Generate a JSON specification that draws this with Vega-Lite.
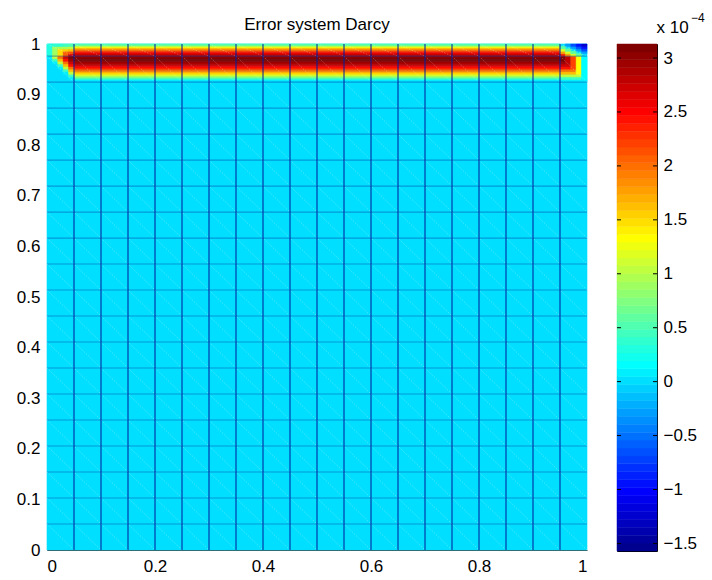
{
  "$schema": "https://vega.github.io/schema/vega-lite/v6.json",
  "background": "white",
  "padding": {"left": 16, "top": 12, "right": 5, "bottom": 5},
  "bounds": "flush",
  "spacing": 30,
  "config": {
    "font": "Liberation Sans",
    "view": {"stroke": null},
    "axis": {"labelFont": "Liberation Sans", "labelFontSize": 17, "labelColor": "black", "grid": false, "zindex": 1},
    "title": {"font": "Liberation Sans", "fontSize": 17, "fontWeight": "normal", "color": "black"}
  },
  "datasets": {
    "cells": [
      {"x":0,"x2":1,"y":0,"y2":1,"v":0},
      {"x":0.05,"x2":0.95,"y":0.9275,"y2":0.93,"v":0.1},
      {"x":0.05,"x2":0.95,"y":0.93,"y2":0.9325,"v":0.4},
      {"x":0.05,"x2":0.95,"y":0.9325,"y2":0.935,"v":0.65},
      {"x":0.05,"x2":0.95,"y":0.935,"y2":0.9375,"v":0.9},
      {"x":0.05,"x2":0.95,"y":0.9375,"y2":0.94,"v":1.2},
      {"x":0.05,"x2":0.95,"y":0.94,"y2":0.9425,"v":1.45},
      {"x":0.05,"x2":0.95,"y":0.9425,"y2":0.945,"v":1.65},
      {"x":0.05,"x2":0.95,"y":0.945,"y2":0.9475,"v":1.9},
      {"x":0.05,"x2":0.95,"y":0.9475,"y2":0.95,"v":2.1},
      {"x":0.05,"x2":0.95,"y":0.95,"y2":0.9525,"v":2.3},
      {"x":0.05,"x2":0.95,"y":0.9525,"y2":0.955,"v":2.45},
      {"x":0.05,"x2":0.95,"y":0.955,"y2":0.9575,"v":2.6},
      {"x":0.05,"x2":0.95,"y":0.9575,"y2":0.96,"v":2.75},
      {"x":0.05,"x2":0.95,"y":0.96,"y2":0.9625,"v":2.85},
      {"x":0.05,"x2":0.95,"y":0.9625,"y2":0.965,"v":2.95},
      {"x":0.05,"x2":0.95,"y":0.965,"y2":0.9675,"v":3.03},
      {"x":0.05,"x2":0.95,"y":0.9675,"y2":0.97,"v":3.1},
      {"x":0.05,"x2":0.95,"y":0.97,"y2":0.9725,"v":3.1},
      {"x":0.05,"x2":0.95,"y":0.9725,"y2":0.975,"v":3.03},
      {"x":0.05,"x2":0.95,"y":0.975,"y2":0.9775,"v":2.93},
      {"x":0.05,"x2":0.95,"y":0.9775,"y2":0.98,"v":2.8},
      {"x":0.05,"x2":0.95,"y":0.98,"y2":0.9825,"v":2.65},
      {"x":0.05,"x2":0.95,"y":0.9825,"y2":0.985,"v":2.45},
      {"x":0.05,"x2":0.95,"y":0.985,"y2":0.9875,"v":2.2},
      {"x":0.05,"x2":0.95,"y":0.9875,"y2":0.99,"v":1.95},
      {"x":0.05,"x2":0.95,"y":0.99,"y2":0.9925,"v":1.7},
      {"x":0.05,"x2":0.95,"y":0.9925,"y2":0.995,"v":1.35},
      {"x":0.05,"x2":0.95,"y":0.995,"y2":0.9975,"v":0.95},
      {"x":0.05,"x2":0.95,"y":0.9975,"y2":1,"v":0.5},

      {"x":0,"x2":0.01,"y":0.971,"y2":0.9761,"v":0.05},
      {"x":0.01,"x2":0.02,"y":0.9607,"y2":0.9658,"v":0.05},
      {"x":0.01,"x2":0.02,"y":0.9658,"y2":0.971,"v":0.45},
      {"x":0.01,"x2":0.02,"y":0.971,"y2":0.9761,"v":1.05},
      {"x":0.02,"x2":0.03,"y":0.9504,"y2":0.9555,"v":0.05},
      {"x":0.02,"x2":0.03,"y":0.9555,"y2":0.9607,"v":0.45},
      {"x":0.02,"x2":0.03,"y":0.9607,"y2":0.9658,"v":1.05},
      {"x":0.02,"x2":0.03,"y":0.9658,"y2":0.971,"v":1.6},
      {"x":0.02,"x2":0.03,"y":0.971,"y2":0.9761,"v":2.0},
      {"x":0.03,"x2":0.04,"y":0.9401,"y2":0.9453,"v":0.05},
      {"x":0.03,"x2":0.04,"y":0.9453,"y2":0.9504,"v":0.45},
      {"x":0.03,"x2":0.04,"y":0.9504,"y2":0.9555,"v":1.05},
      {"x":0.03,"x2":0.04,"y":0.9555,"y2":0.9607,"v":1.6},
      {"x":0.03,"x2":0.04,"y":0.9607,"y2":0.9658,"v":2.0},
      {"x":0.03,"x2":0.04,"y":0.9658,"y2":0.971,"v":2.4},
      {"x":0.03,"x2":0.04,"y":0.971,"y2":0.9761,"v":2.7},
      {"x":0.04,"x2":0.05,"y":0.9298,"y2":0.935,"v":0.05},
      {"x":0.04,"x2":0.05,"y":0.935,"y2":0.9401,"v":0.45},
      {"x":0.04,"x2":0.05,"y":0.9401,"y2":0.9453,"v":1.05},
      {"x":0.04,"x2":0.05,"y":0.9453,"y2":0.9504,"v":1.6},
      {"x":0.04,"x2":0.05,"y":0.9504,"y2":0.9555,"v":2.0},
      {"x":0.04,"x2":0.05,"y":0.9555,"y2":0.9607,"v":2.4},
      {"x":0.04,"x2":0.05,"y":0.9607,"y2":0.9658,"v":2.7},
      {"x":0.04,"x2":0.05,"y":0.9658,"y2":0.971,"v":2.93},
      {"x":0.04,"x2":0.05,"y":0.971,"y2":0.9761,"v":3.07},

      {"x":0,"x2":0.01,"y":0.9761,"y2":1,"v":0.29},
      {"x":0.01,"x2":0.02,"y":0.9761,"y2":0.9952,"v":0.88},
      {"x":0.01,"x2":0.02,"y":0.9952,"y2":1,"v":0.35},
      {"x":0.02,"x2":0.03,"y":0.9761,"y2":0.9904,"v":1.47},
      {"x":0.02,"x2":0.03,"y":0.9904,"y2":0.9952,"v":0.94},
      {"x":0.02,"x2":0.03,"y":0.9952,"y2":1,"v":0.41},
      {"x":0.03,"x2":0.04,"y":0.9761,"y2":0.9857,"v":2.05},
      {"x":0.03,"x2":0.04,"y":0.9857,"y2":0.9904,"v":1.53},
      {"x":0.03,"x2":0.04,"y":0.9904,"y2":0.9952,"v":1.0},
      {"x":0.03,"x2":0.04,"y":0.9952,"y2":1,"v":0.47},
      {"x":0.04,"x2":0.05,"y":0.9761,"y2":0.9809,"v":2.64},
      {"x":0.04,"x2":0.05,"y":0.9809,"y2":0.9857,"v":2.11},
      {"x":0.04,"x2":0.05,"y":0.9857,"y2":0.9904,"v":1.59},
      {"x":0.04,"x2":0.05,"y":0.9904,"y2":0.9952,"v":1.06},
      {"x":0.04,"x2":0.05,"y":0.9952,"y2":1,"v":0.53},

      {"x":0.95,"x2":0.96,"y":0.9247,"y2":0.9298,"v":0.05},
      {"x":0.95,"x2":0.96,"y":0.9298,"y2":0.935,"v":0.45},
      {"x":0.95,"x2":0.96,"y":0.935,"y2":0.9401,"v":1.05},
      {"x":0.95,"x2":0.96,"y":0.9401,"y2":0.9453,"v":1.6},
      {"x":0.95,"x2":0.96,"y":0.9453,"y2":0.9504,"v":2.0},
      {"x":0.95,"x2":0.96,"y":0.9504,"y2":0.9555,"v":2.4},
      {"x":0.95,"x2":0.96,"y":0.9555,"y2":0.9607,"v":2.7},
      {"x":0.95,"x2":0.96,"y":0.9607,"y2":0.9658,"v":2.93},
      {"x":0.95,"x2":0.96,"y":0.9658,"y2":0.971,"v":3.07},
      {"x":0.95,"x2":0.96,"y":0.971,"y2":0.9761,"v":3.1},
      {"x":0.96,"x2":0.97,"y":0.9247,"y2":0.9298,"v":0.05},
      {"x":0.96,"x2":0.97,"y":0.9298,"y2":0.935,"v":0.45},
      {"x":0.96,"x2":0.97,"y":0.935,"y2":0.9401,"v":1.05},
      {"x":0.96,"x2":0.97,"y":0.9401,"y2":0.9453,"v":1.6},
      {"x":0.96,"x2":0.97,"y":0.9453,"y2":0.9504,"v":2.0},
      {"x":0.96,"x2":0.97,"y":0.9504,"y2":0.9555,"v":2.4},
      {"x":0.96,"x2":0.97,"y":0.9555,"y2":0.9607,"v":2.7},
      {"x":0.96,"x2":0.97,"y":0.9607,"y2":0.9761,"v":2.83},
      {"x":0.97,"x2":0.98,"y":0.9247,"y2":0.9298,"v":0.05},
      {"x":0.97,"x2":0.98,"y":0.9298,"y2":0.935,"v":0.45},
      {"x":0.97,"x2":0.98,"y":0.935,"y2":0.9401,"v":1.05},
      {"x":0.97,"x2":0.98,"y":0.9401,"y2":0.9453,"v":1.6},
      {"x":0.97,"x2":0.98,"y":0.9453,"y2":0.9504,"v":2.0},
      {"x":0.97,"x2":0.98,"y":0.9504,"y2":0.9761,"v":2.2},
      {"x":0.98,"x2":0.99,"y":0.9247,"y2":0.9298,"v":0.05},
      {"x":0.98,"x2":0.99,"y":0.9298,"y2":0.935,"v":0.45},
      {"x":0.98,"x2":0.99,"y":0.935,"y2":0.9401,"v":1.05},
      {"x":0.98,"x2":0.99,"y":0.9401,"y2":0.9761,"v":1.35},
      {"x":0.99,"x2":1,"y":0.9247,"y2":0.9298,"v":0.05},
      {"x":0.99,"x2":1,"y":0.9298,"y2":0.9761,"v":0.15},

      {"x":0.95,"x2":0.96,"y":0.9761,"y2":0.9809,"v":2.34},
      {"x":0.95,"x2":0.96,"y":0.9809,"y2":0.9857,"v":1.76},
      {"x":0.95,"x2":0.96,"y":0.9857,"y2":0.9904,"v":1.17},
      {"x":0.95,"x2":0.96,"y":0.9904,"y2":0.9952,"v":0.59},
      {"x":0.96,"x2":0.97,"y":0.9761,"y2":0.9809,"v":1.76},
      {"x":0.96,"x2":0.97,"y":0.9809,"y2":0.9857,"v":1.17},
      {"x":0.96,"x2":0.97,"y":0.9857,"y2":0.9904,"v":0.59},
      {"x":0.96,"x2":0.97,"y":0.9952,"y2":1,"v":-0.31},
      {"x":0.97,"x2":0.98,"y":0.9761,"y2":0.9809,"v":1.17},
      {"x":0.97,"x2":0.98,"y":0.9809,"y2":0.9857,"v":0.59},
      {"x":0.97,"x2":0.98,"y":0.9904,"y2":0.9952,"v":-0.31},
      {"x":0.97,"x2":0.98,"y":0.9952,"y2":1,"v":-0.63},
      {"x":0.98,"x2":0.99,"y":0.9761,"y2":0.9809,"v":0.59},
      {"x":0.98,"x2":0.99,"y":0.9857,"y2":0.9904,"v":-0.31},
      {"x":0.98,"x2":0.99,"y":0.9904,"y2":0.9952,"v":-0.63},
      {"x":0.98,"x2":0.99,"y":0.9952,"y2":1,"v":-0.94},
      {"x":0.99,"x2":1,"y":0.9809,"y2":0.9857,"v":-0.31},
      {"x":0.99,"x2":1,"y":0.9857,"y2":0.9904,"v":-0.63},
      {"x":0.99,"x2":1,"y":0.9904,"y2":0.9952,"v":-0.94},
      {"x":0.99,"x2":1,"y":0.9952,"y2":1,"v":-1.26}
    ],
    "diag": [
      {"x":0,"y":0.05137,"x2":0.05,"y2":0},
      {"x":0,"y":0.10274,"x2":0.1,"y2":0},
      {"x":0,"y":0.15411,"x2":0.15,"y2":0},
      {"x":0,"y":0.20548,"x2":0.2,"y2":0},
      {"x":0,"y":0.25685,"x2":0.25,"y2":0},
      {"x":0,"y":0.30822,"x2":0.3,"y2":0},
      {"x":0,"y":0.35959,"x2":0.35,"y2":0},
      {"x":0,"y":0.41096,"x2":0.4,"y2":0},
      {"x":0,"y":0.46233,"x2":0.45,"y2":0},
      {"x":0,"y":0.5137,"x2":0.5,"y2":0},
      {"x":0,"y":0.56507,"x2":0.55,"y2":0},
      {"x":0,"y":0.61644,"x2":0.6,"y2":0},
      {"x":0,"y":0.66781,"x2":0.65,"y2":0},
      {"x":0,"y":0.71918,"x2":0.7,"y2":0},
      {"x":0,"y":0.77055,"x2":0.75,"y2":0},
      {"x":0,"y":0.82192,"x2":0.8,"y2":0},
      {"x":0,"y":0.87329,"x2":0.85,"y2":0},
      {"x":0,"y":0.92466,"x2":0.9,"y2":0},
      {"x":0,"y":0.97603,"x2":0.95,"y2":0},
      {"x":0.05,"y":0.97603,"x2":1,"y2":0},
      {"x":0.1,"y":0.97603,"x2":1,"y2":0.05137},
      {"x":0.15,"y":0.97603,"x2":1,"y2":0.10274},
      {"x":0.2,"y":0.97603,"x2":1,"y2":0.15411},
      {"x":0.25,"y":0.97603,"x2":1,"y2":0.20548},
      {"x":0.3,"y":0.97603,"x2":1,"y2":0.25685},
      {"x":0.35,"y":0.97603,"x2":1,"y2":0.30822},
      {"x":0.4,"y":0.97603,"x2":1,"y2":0.35959},
      {"x":0.45,"y":0.97603,"x2":1,"y2":0.41096},
      {"x":0.5,"y":0.97603,"x2":1,"y2":0.46233},
      {"x":0.55,"y":0.97603,"x2":1,"y2":0.5137},
      {"x":0.6,"y":0.97603,"x2":1,"y2":0.56507},
      {"x":0.65,"y":0.97603,"x2":1,"y2":0.61644},
      {"x":0.7,"y":0.97603,"x2":1,"y2":0.66781},
      {"x":0.75,"y":0.97603,"x2":1,"y2":0.71918},
      {"x":0.8,"y":0.97603,"x2":1,"y2":0.77055},
      {"x":0.85,"y":0.97603,"x2":1,"y2":0.82192},
      {"x":0.9,"y":0.97603,"x2":1,"y2":0.87329},
      {"x":0.95,"y":0.97603,"x2":1,"y2":0.92466},
      {"x":0,"y":1,"x2":0.05,"y2":0.97603},
      {"x":0.05,"y":1,"x2":0.1,"y2":0.97603},
      {"x":0.1,"y":1,"x2":0.15,"y2":0.97603},
      {"x":0.15,"y":1,"x2":0.2,"y2":0.97603},
      {"x":0.2,"y":1,"x2":0.25,"y2":0.97603},
      {"x":0.25,"y":1,"x2":0.3,"y2":0.97603},
      {"x":0.3,"y":1,"x2":0.35,"y2":0.97603},
      {"x":0.35,"y":1,"x2":0.4,"y2":0.97603},
      {"x":0.4,"y":1,"x2":0.45,"y2":0.97603},
      {"x":0.45,"y":1,"x2":0.5,"y2":0.97603},
      {"x":0.5,"y":1,"x2":0.55,"y2":0.97603},
      {"x":0.55,"y":1,"x2":0.6,"y2":0.97603},
      {"x":0.6,"y":1,"x2":0.65,"y2":0.97603},
      {"x":0.65,"y":1,"x2":0.7,"y2":0.97603},
      {"x":0.7,"y":1,"x2":0.75,"y2":0.97603},
      {"x":0.75,"y":1,"x2":0.8,"y2":0.97603},
      {"x":0.8,"y":1,"x2":0.85,"y2":0.97603},
      {"x":0.85,"y":1,"x2":0.9,"y2":0.97603},
      {"x":0.9,"y":1,"x2":0.95,"y2":0.97603},
      {"x":0.95,"y":1,"x2":1,"y2":0.97603}
    ],
    "vlines": [
      {"x":0.05},{"x":0.1},{"x":0.15},{"x":0.2},{"x":0.25},{"x":0.3},{"x":0.35},{"x":0.4},{"x":0.45},{"x":0.5},
      {"x":0.55},{"x":0.6},{"x":0.65},{"x":0.7},{"x":0.75},{"x":0.8},{"x":0.85},{"x":0.9},{"x":0.95}
    ],
    "hlines": [
      {"y":0.05137},{"y":0.10274},{"y":0.15411},{"y":0.20548},{"y":0.25685},{"y":0.30822},{"y":0.35959},{"y":0.41096},{"y":0.46233},{"y":0.5137},
      {"y":0.56507},{"y":0.61644},{"y":0.66781},{"y":0.71918},{"y":0.77055},{"y":0.82192},{"y":0.87329},{"y":0.92466},{"y":0.97603}
    ],
    "cticks": [
      {"t":-1.5},{"t":-1},{"t":-0.5},{"t":0},{"t":0.5},{"t":1},{"t":1.5},{"t":2},{"t":2.5},{"t":3}
    ],
    "cbar": [
      {"lo":-1.57,"hi":-1.4966,"v":-1.5333},
      {"lo":-1.4966,"hi":-1.4231,"v":-1.4598},
      {"lo":-1.4231,"hi":-1.3497,"v":-1.3864},
      {"lo":-1.3497,"hi":-1.2763,"v":-1.313},
      {"lo":-1.2763,"hi":-1.2028,"v":-1.2395},
      {"lo":-1.2028,"hi":-1.1294,"v":-1.1661},
      {"lo":-1.1294,"hi":-1.0559,"v":-1.0927},
      {"lo":-1.0559,"hi":-0.9825,"v":-1.0192},
      {"lo":-0.9825,"hi":-0.9091,"v":-0.9458},
      {"lo":-0.9091,"hi":-0.8356,"v":-0.8723},
      {"lo":-0.8356,"hi":-0.7622,"v":-0.7989},
      {"lo":-0.7622,"hi":-0.6888,"v":-0.7255},
      {"lo":-0.6888,"hi":-0.6153,"v":-0.652},
      {"lo":-0.6153,"hi":-0.5419,"v":-0.5786},
      {"lo":-0.5419,"hi":-0.4684,"v":-0.5052},
      {"lo":-0.4684,"hi":-0.395,"v":-0.4317},
      {"lo":-0.395,"hi":-0.3216,"v":-0.3583},
      {"lo":-0.3216,"hi":-0.2481,"v":-0.2848},
      {"lo":-0.2481,"hi":-0.1747,"v":-0.2114},
      {"lo":-0.1747,"hi":-0.1013,"v":-0.138},
      {"lo":-0.1013,"hi":-0.0278,"v":-0.0645},
      {"lo":-0.0278,"hi":0.0456,"v":0.0089},
      {"lo":0.0456,"hi":0.1191,"v":0.0823},
      {"lo":0.1191,"hi":0.1925,"v":0.1558},
      {"lo":0.1925,"hi":0.2659,"v":0.2292},
      {"lo":0.2659,"hi":0.3394,"v":0.3027},
      {"lo":0.3394,"hi":0.4128,"v":0.3761},
      {"lo":0.4128,"hi":0.4863,"v":0.4495},
      {"lo":0.4863,"hi":0.5597,"v":0.523},
      {"lo":0.5597,"hi":0.6331,"v":0.5964},
      {"lo":0.6331,"hi":0.7066,"v":0.6698},
      {"lo":0.7066,"hi":0.78,"v":0.7433},
      {"lo":0.78,"hi":0.8534,"v":0.8167},
      {"lo":0.8534,"hi":0.9269,"v":0.8902},
      {"lo":0.9269,"hi":1.0003,"v":0.9636},
      {"lo":1.0003,"hi":1.0738,"v":1.037},
      {"lo":1.0738,"hi":1.1472,"v":1.1105},
      {"lo":1.1472,"hi":1.2206,"v":1.1839},
      {"lo":1.2206,"hi":1.2941,"v":1.2573},
      {"lo":1.2941,"hi":1.3675,"v":1.3308},
      {"lo":1.3675,"hi":1.4409,"v":1.4042},
      {"lo":1.4409,"hi":1.5144,"v":1.4777},
      {"lo":1.5144,"hi":1.5878,"v":1.5511},
      {"lo":1.5878,"hi":1.6613,"v":1.6245},
      {"lo":1.6613,"hi":1.7347,"v":1.698},
      {"lo":1.7347,"hi":1.8081,"v":1.7714},
      {"lo":1.8081,"hi":1.8816,"v":1.8448},
      {"lo":1.8816,"hi":1.955,"v":1.9183},
      {"lo":1.955,"hi":2.0284,"v":1.9917},
      {"lo":2.0284,"hi":2.1019,"v":2.0652},
      {"lo":2.1019,"hi":2.1753,"v":2.1386},
      {"lo":2.1753,"hi":2.2488,"v":2.212},
      {"lo":2.2488,"hi":2.3222,"v":2.2855},
      {"lo":2.3222,"hi":2.3956,"v":2.3589},
      {"lo":2.3956,"hi":2.4691,"v":2.4323},
      {"lo":2.4691,"hi":2.5425,"v":2.5058},
      {"lo":2.5425,"hi":2.6159,"v":2.5792},
      {"lo":2.6159,"hi":2.6894,"v":2.6527},
      {"lo":2.6894,"hi":2.7628,"v":2.7261},
      {"lo":2.7628,"hi":2.8363,"v":2.7995},
      {"lo":2.8363,"hi":2.9097,"v":2.873},
      {"lo":2.9097,"hi":2.9831,"v":2.9464},
      {"lo":2.9831,"hi":3.0566,"v":3.0198},
      {"lo":3.0566,"hi":3.13,"v":3.0933}
    ]
  },
  "hconcat": [
    {
      "width": 540,
      "height": 506,
      "title": {"text": "Error system Darcy", "offset": 1},
      "layer": [
        {
          "data": {"name": "cells"},
          "mark": {"type": "rect", "strokeWidth": 0.6},
          "encoding": {
            "x": {"field": "x", "type": "quantitative", "title": null, "scale": {"domain": [0, 1], "nice": false, "zero": false},
                  "axis": {"values": [0, 0.2, 0.4, 0.6, 0.8, 1], "format": "~g", "ticks": false, "domain": true, "domainColor": "#404040", "domainWidth": 1, "labelPadding": 8}},
            "x2": {"field": "x2"},
            "y": {"field": "y", "type": "quantitative", "title": null, "scale": {"domain": [0, 1], "nice": false, "zero": false},
                  "axis": {"values": [0, 0.1, 0.2, 0.3, 0.4, 0.5, 0.6, 0.7, 0.8, 0.9, 1], "format": "~g", "ticks": false, "domain": true, "domainColor": "#404040", "domainWidth": 1, "labelPadding": 7}},
            "y2": {"field": "y2"},
            "fill": {"field": "v", "type": "quantitative", "legend": null,
                     "scale": {"type": "quantize", "domain": [-1.57, 3.13], "nice": false, "zero": false,
                               "range": ["#00008F","#00009F","#0000AF","#0000BF","#0000CF","#0000DF","#0000EF","#0000FF","#0010FF","#0020FF","#0030FF","#0040FF","#0050FF","#0060FF","#0070FF","#0080FF","#008FFF","#009FFF","#00AFFF","#00BFFF","#00CFFF","#00DFFF","#00EFFF","#00FFFF","#10FFEF","#20FFDF","#30FFCF","#40FFBF","#50FFAF","#60FF9F","#70FF8F","#80FF80","#8FFF70","#9FFF60","#AFFF50","#BFFF40","#CFFF30","#DFFF20","#EFFF10","#FFFF00","#FFEF00","#FFDF00","#FFCF00","#FFBF00","#FFAF00","#FF9F00","#FF8F00","#FF8000","#FF7000","#FF6000","#FF5000","#FF4000","#FF3000","#FF2000","#FF1000","#FF0000","#EF0000","#DF0000","#CF0000","#BF0000","#AF0000","#9F0000","#8F0000","#800000"]}},
            "stroke": {"field": "v", "type": "quantitative", "legend": null,
                     "scale": {"type": "quantize", "domain": [-1.57, 3.13], "nice": false, "zero": false,
                               "range": ["#00008F","#00009F","#0000AF","#0000BF","#0000CF","#0000DF","#0000EF","#0000FF","#0010FF","#0020FF","#0030FF","#0040FF","#0050FF","#0060FF","#0070FF","#0080FF","#008FFF","#009FFF","#00AFFF","#00BFFF","#00CFFF","#00DFFF","#00EFFF","#00FFFF","#10FFEF","#20FFDF","#30FFCF","#40FFBF","#50FFAF","#60FF9F","#70FF8F","#80FF80","#8FFF70","#9FFF60","#AFFF50","#BFFF40","#CFFF30","#DFFF20","#EFFF10","#FFFF00","#FFEF00","#FFDF00","#FFCF00","#FFBF00","#FFAF00","#FF9F00","#FF8F00","#FF8000","#FF7000","#FF6000","#FF5000","#FF4000","#FF3000","#FF2000","#FF1000","#FF0000","#EF0000","#DF0000","#CF0000","#BF0000","#AF0000","#9F0000","#8F0000","#800000"]}}
          }
        },
        {
          "data": {"name": "diag"},
          "mark": {"type": "rule", "stroke": "#ffffff", "opacity": 0.35, "strokeWidth": 0.8, "strokeDash": [1.5, 1.5]},
          "encoding": {
            "x": {"field": "x", "type": "quantitative", "title": null},
            "y": {"field": "y", "type": "quantitative", "title": null},
            "x2": {"field": "x2"},
            "y2": {"field": "y2"}
          }
        },
        {
          "data": {"name": "hlines"},
          "mark": {"type": "rule", "stroke": "#0030a0", "opacity": 0.4, "strokeWidth": 1.1},
          "encoding": {
            "y": {"field": "y", "type": "quantitative", "title": null}
          }
        },
        {
          "data": {"name": "vlines"},
          "mark": {"type": "rule", "stroke": "#0020a0", "opacity": 0.65, "strokeWidth": 1.6},
          "encoding": {
            "x": {"field": "x", "type": "quantitative", "title": null}
          }
        }
      ]
    },
    {
      "title": {"text": "−4", "fontSize": 12, "anchor": "start", "dx": 75, "offset": -7},
      "vconcat": [
        {
          "width": 40,
          "height": 507,
          "title": {"text": "x 10", "anchor": "start", "dx": 40, "offset": 7},
          "view": {"stroke": "black", "strokeWidth": 1},
          "layer": [
            {
              "data": {"name": "cbar"},
              "mark": {"type": "rect", "strokeWidth": 0.5},
              "encoding": {
                "x": {"datum": 0, "type": "quantitative", "scale": {"domain": [0, 1], "nice": false, "zero": false}, "axis": null},
                "x2": {"datum": 1},
                "y": {"field": "lo", "type": "quantitative", "title": null, "scale": {"domain": [-1.57, 3.13], "nice": false, "zero": false},
                      "axis": {"orient": "right", "values": [-1.5, -1, -0.5, 0, 0.5, 1, 1.5, 2, 2.5, 3], "format": "~g", "ticks": false, "labelPadding": 6, "domain": false}},
                "y2": {"field": "hi"},
                "fill": {"field": "v", "type": "quantitative", "legend": null,
                         "scale": {"type": "quantize", "domain": [-1.57, 3.13], "nice": false, "zero": false,
                                   "range": ["#00008F","#00009F","#0000AF","#0000BF","#0000CF","#0000DF","#0000EF","#0000FF","#0010FF","#0020FF","#0030FF","#0040FF","#0050FF","#0060FF","#0070FF","#0080FF","#008FFF","#009FFF","#00AFFF","#00BFFF","#00CFFF","#00DFFF","#00EFFF","#00FFFF","#10FFEF","#20FFDF","#30FFCF","#40FFBF","#50FFAF","#60FF9F","#70FF8F","#80FF80","#8FFF70","#9FFF60","#AFFF50","#BFFF40","#CFFF30","#DFFF20","#EFFF10","#FFFF00","#FFEF00","#FFDF00","#FFCF00","#FFBF00","#FFAF00","#FF9F00","#FF8F00","#FF8000","#FF7000","#FF6000","#FF5000","#FF4000","#FF3000","#FF2000","#FF1000","#FF0000","#EF0000","#DF0000","#CF0000","#BF0000","#AF0000","#9F0000","#8F0000","#800000"]}},
                "stroke": {"field": "v", "type": "quantitative", "legend": null,
                         "scale": {"type": "quantize", "domain": [-1.57, 3.13], "nice": false, "zero": false,
                                   "range": ["#00008F","#00009F","#0000AF","#0000BF","#0000CF","#0000DF","#0000EF","#0000FF","#0010FF","#0020FF","#0030FF","#0040FF","#0050FF","#0060FF","#0070FF","#0080FF","#008FFF","#009FFF","#00AFFF","#00BFFF","#00CFFF","#00DFFF","#00EFFF","#00FFFF","#10FFEF","#20FFDF","#30FFCF","#40FFBF","#50FFAF","#60FF9F","#70FF8F","#80FF80","#8FFF70","#9FFF60","#AFFF50","#BFFF40","#CFFF30","#DFFF20","#EFFF10","#FFFF00","#FFEF00","#FFDF00","#FFCF00","#FFBF00","#FFAF00","#FF9F00","#FF8F00","#FF8000","#FF7000","#FF6000","#FF5000","#FF4000","#FF3000","#FF2000","#FF1000","#FF0000","#EF0000","#DF0000","#CF0000","#BF0000","#AF0000","#9F0000","#8F0000","#800000"]}}
              }
            },
            {
              "data": {"name": "cticks"},
              "mark": {"type": "rule", "stroke": "black", "strokeWidth": 1},
              "encoding": {
                "x": {"datum": 0, "type": "quantitative"},
                "x2": {"datum": 0.1},
                "y": {"field": "t", "type": "quantitative", "title": null}
              }
            },
            {
              "data": {"name": "cticks"},
              "mark": {"type": "rule", "stroke": "black", "strokeWidth": 1},
              "encoding": {
                "x": {"datum": 0.9, "type": "quantitative"},
                "x2": {"datum": 1},
                "y": {"field": "t", "type": "quantitative", "title": null}
              }
            }
          ]
        }
      ]
    }
  ]
}
